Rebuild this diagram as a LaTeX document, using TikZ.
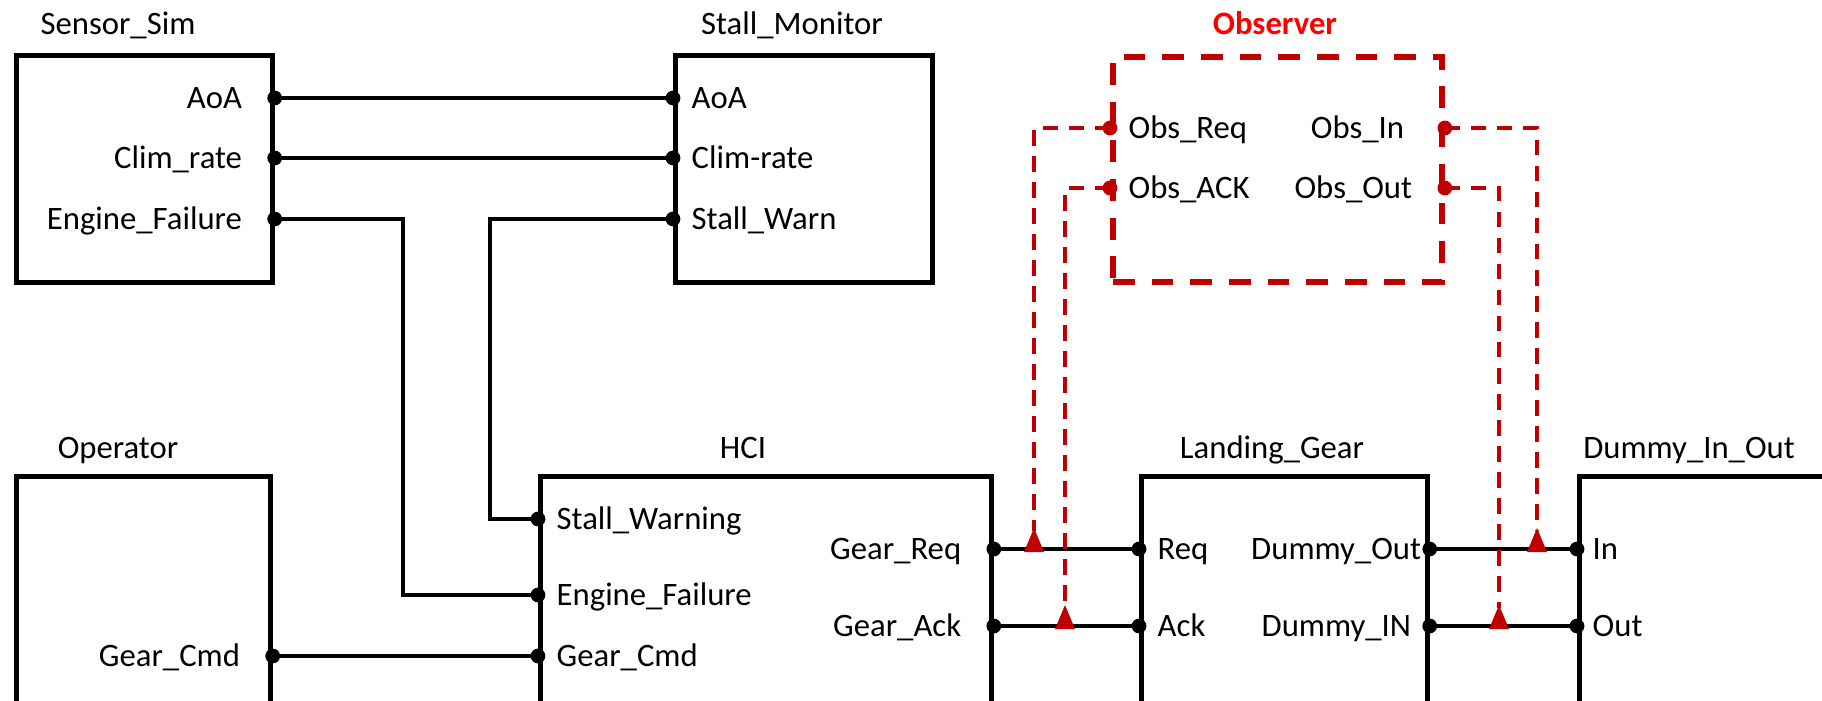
\documentclass[tikz,border=0pt]{standalone}
\usepackage{fontspec}
\setmainfont{Carlito}
\usepackage{tikz}
\usetikzlibrary{calc}
\definecolor{obsred}{RGB}{192,0,0}
\definecolor{obstitle}{RGB}{255,0,0}
\tikzset{
  blockbox/.style = {draw, black, line width=1.3pt, inner sep=0pt, anchor=north west},
  obsbox/.style   = {draw, obsred, line width=1.6pt, inner sep=0pt, anchor=north west,
                     dash pattern=on 6.2pt off 4.8pt},
  wireln/.style   = {black, line width=1.1pt},
  obswire/.style  = {obsred, line width=1.1pt, dash pattern=on 4.4pt off 3pt},
  txt/.style      = {font=\fontsize{9.3}{10}\selectfont, inner sep=0pt,
                     text height=5.8pt, text depth=0pt},
  portR/.style    = {txt, anchor=east, xshift=-0.32cm},
  portL/.style    = {txt, anchor=west, xshift=0.18cm}
}
\newcommand{\portdot}[2][black]{\fill[#1] (#2) circle (2.1pt);}
\newcommand{\probetip}[1]{\fill[obsred] (#1) ++(-10,3) -- ++(20,0) -- ++(-10,-24) -- cycle;}

\begin{document}
\begin{tikzpicture}[x=0.01cm, y=-0.01cm]
  \useasboundingbox (0,0) rectangle (1822,700);
  \clip (0,0) rectangle (1822,700);
  % --- the blocks ---------------------------------------------------------
  \node[blockbox, minimum width=2.56cm, minimum height=2.27cm] (sensor)   at (14,53)   {};
  \node[blockbox, minimum width=2.57cm, minimum height=2.27cm] (stallmon) at (673,53)  {};
  \node[obsbox,   minimum width=3.29cm, minimum height=2.25cm] (observer) at (1110,54) {};
  \node[blockbox, minimum width=2.54cm, minimum height=3cm]    (operator) at (14,474)  {};
  \node[blockbox, minimum width=4.51cm, minimum height=3cm]    (hci)      at (538,474) {};
  \node[blockbox, minimum width=2.86cm, minimum height=3cm]    (gear)     at (1139,474) {};
  \node[blockbox, minimum width=3.00cm, minimum height=3cm]    (dummy)    at (1577,474) {};
  % block titles
  \node[txt] (t-sensor)   at (118,24)  {Sensor\_Sim};
  \node[txt] (t-stallmon) at (792,24)  {Stall\_Monitor};
  \node[txt, font=\fontsize{9.3}{10}\selectfont\bfseries, obstitle] (t-observer) at (1275,24) {Observer};
  \node[txt] (t-operator) at (118,448) {Operator};
  \node[txt] (t-hci)      at (743,448) {HCI};
  \node[txt] (t-gear)     at (1272,448) {Landing\_Gear};
  \node[txt] (t-dummy)    at (1689,448) {Dummy\_In\_Out};
  % --- ports on the block edges -------------------------------------------
  \coordinate (ss-aoa)   at (sensor.east |- 0,98);
  \coordinate (ss-clim)  at (sensor.east |- 0,158);
  \coordinate (ss-eng)   at (sensor.east |- 0,219);
  \coordinate (sm-aoa)   at (stallmon.west |- 0,98);
  \coordinate (sm-clim)  at (stallmon.west |- 0,158);
  \coordinate (sm-warn)  at (stallmon.west |- 0,219);
  \coordinate (ob-req)   at (observer.west |- 0,128);
  \coordinate (ob-ack)   at (observer.west |- 0,188);
  \coordinate (ob-in)    at (observer.east |- 0,128);
  \coordinate (ob-out)   at (observer.east |- 0,188);
  \coordinate (op-cmd)   at (operator.east |- 0,656);
  \coordinate (hci-warn) at (hci.west |- 0,519);
  \coordinate (hci-eng)  at (hci.west |- 0,595);
  \coordinate (hci-cmd)  at (hci.west |- 0,656);
  \coordinate (hci-req)  at (hci.east |- 0,549);
  \coordinate (hci-ack)  at (hci.east |- 0,626);
  \coordinate (lg-req)   at (gear.west |- 0,549);
  \coordinate (lg-ack)   at (gear.west |- 0,626);
  \coordinate (lg-dout)  at (gear.east |- 0,549);
  \coordinate (lg-din)   at (gear.east |- 0,626);
  \coordinate (du-in)    at (dummy.west |- 0,549);
  \coordinate (du-out)   at (dummy.west |- 0,626);
  % port names
  \node[portR] (l-ss-aoa)   at (ss-aoa)   {AoA};
  \node[portR] (l-ss-clim)  at (ss-clim)  {Clim\_rate};
  \node[portR] (l-ss-eng)   at (ss-eng)   {Engine\_Failure};
  \node[portL] (l-sm-aoa)   at (sm-aoa)   {AoA};
  \node[portL] (l-sm-clim)  at (sm-clim)  {Clim-rate};
  \node[portL] (l-sm-warn)  at (sm-warn)  {Stall\_Warn};
  \node[portL] (l-ob-req)   at (ob-req)   {Obs\_Req};
  \node[portL] (l-ob-ack)   at (ob-ack)   {Obs\_ACK};
  \node[portR, xshift=-0.08cm] (l-ob-in) at (ob-in)  {Obs\_In};
  \node[portR] (l-ob-out)   at (ob-out)   {Obs\_Out};
  \node[portR] (l-op-cmd)   at (op-cmd)   {Gear\_Cmd};
  \node[portL] (l-hci-warn) at (hci-warn) {Stall\_Warning};
  \node[portL] (l-hci-eng)  at (hci-eng)  {Engine\_Failure};
  \node[portL] (l-hci-cmd)  at (hci-cmd)  {Gear\_Cmd};
  \node[portR] (l-hci-req)  at (hci-req)  {Gear\_Req};
  \node[portR] (l-hci-ack)  at (hci-ack)  {Gear\_Ack};
  \node[portL] (l-lg-req)   at (lg-req)   {Req};
  \node[portL] (l-lg-ack)   at (lg-ack)   {Ack};
  \node[portR, xshift=0.24cm] (l-lg-dout) at (lg-dout) {Dummy\_Out};
  \node[portR, xshift=0.14cm] (l-lg-din)  at (lg-din)  {Dummy\_IN};
  \node[portL, xshift=-0.03cm] (l-du-in)  at (du-in)  {In};
  \node[portL, xshift=-0.03cm] (l-du-out) at (du-out) {Out};
  % --- the black connections ----------------------------------------------
  \coordinate (eng-run)  at (403,400);
  \coordinate (warn-run) at (490,400);
  \draw[wireln] (ss-aoa) -- (sm-aoa);
  \draw[wireln] (ss-clim) -- (sm-clim);
  \draw[wireln] (ss-eng) -| (eng-run) |- (hci-eng);
  \draw[wireln] (sm-warn) -| (warn-run) |- (hci-warn);
  \draw[wireln] (op-cmd) -- (hci-cmd);
  \draw[wireln] (hci-req) -- (lg-req);
  \draw[wireln] (hci-ack) -- (lg-ack);
  \draw[wireln] (lg-dout) -- (du-in);
  \draw[wireln] (lg-din) -- (du-out);
  % --- the observer taps, dashed, ending in a small triangle --------------
  \coordinate (tap-req) at (1034,549);
  \coordinate (tap-ack) at (1065,626);
  \coordinate (tap-in)  at (1537,549);
  \coordinate (tap-out) at (1499,626);
  \draw[obswire] (ob-req) -| ($(tap-req)+(0,-18)$);
  \draw[obswire] (ob-ack) -| ($(tap-ack)+(0,-18)$);
  \draw[obswire] (ob-in)  -| ($(tap-in)+(0,-18)$);
  \draw[obswire] (ob-out) -| ($(tap-out)+(0,-18)$);
  \probetip{tap-req}
  \probetip{tap-ack}
  \probetip{tap-in}
  \probetip{tap-out}
  % --- port dots ----------------------------------------------------------
  \foreach \p in {ss-aoa,ss-clim,ss-eng,sm-aoa,sm-clim,sm-warn,op-cmd,
                  hci-warn,hci-eng,hci-cmd,hci-req,hci-ack,
                  lg-req,lg-ack,lg-dout,lg-din,du-in,du-out}
    {\portdot{\p}}
  \foreach \p in {ob-req,ob-ack,ob-in,ob-out}
    {\portdot[obsred]{\p}}
\end{tikzpicture}
\end{document}
